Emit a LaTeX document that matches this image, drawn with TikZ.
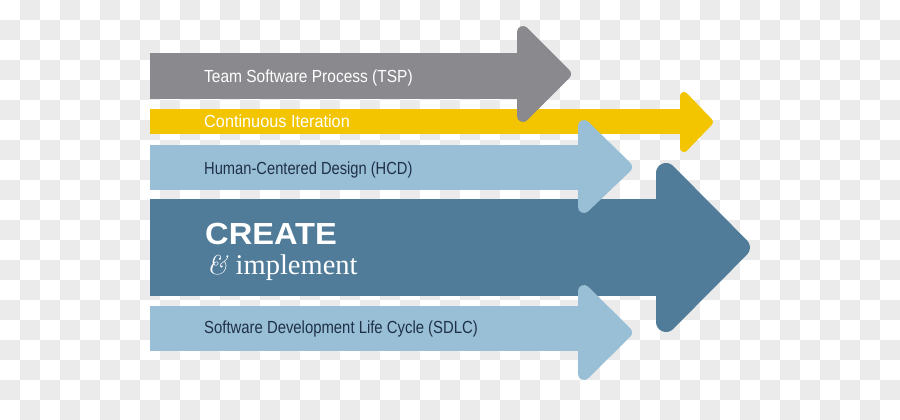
\documentclass[tikz,border=0pt]{standalone}
\usepackage{fontspec}
\usepackage{graphicx}
\newfontfamily\lsans{Liberation Sans}
\newfontfamily\lserif{Liberation Serif}
\definecolor{tspgray}{HTML}{8A898E}
\definecolor{ciyellow}{HTML}{F2C500}
\definecolor{lblue}{HTML}{98BFD6}
\definecolor{dblue}{HTML}{507C9A}
\definecolor{navy}{HTML}{1F3148}
\definecolor{checker}{HTML}{EBEBEB}
\tikzset{
  lbl/.style={anchor=base west, inner sep=0pt, font=\lsans\fontsize{17.5}{20}\selectfont},
  big/.style={anchor=base west, inner sep=0pt, text=white},
  head/.style={fill=#1, draw=#1, line join=round},
}
\begin{document}
\begin{tikzpicture}[x=1pt,y=-1pt]
\useasboundingbox (0,0) rectangle (900,420);
% transparency checkerboard
\fill[white] (0,0) rectangle (900,420);
\foreach \i in {0,...,44}{
  \foreach \j in {0,...,20}{
    \pgfmathtruncatemacro\k{\i+\j}
    \ifodd\k \fill[checker] (\i*20,\j*20) rectangle ++(20,20); \fi
  }
}
% yellow arrow (Continuous Iteration): head visible x 680..713, y 92..152, R=4
\fill[ciyellow] (150,109) rectangle (686,134);
\filldraw[head=ciyellow, line width=8pt] (684,96) -- (709,122) -- (684,148) -- cycle;
% gray arrow (TSP): head visible x 517..571, y 26..122, R=6
\fill[tspgray] (150,53.5) rectangle (525,99);
\filldraw[head=tspgray, line width=12pt] (523,32) -- (565,74) -- (523,116) -- cycle;
% dark blue arrow (CREATE): head visible x 656..750, y 163..332, R=10
\fill[dblue] (150,199) rectangle (668,296);
\filldraw[head=dblue, line width=20pt] (666,173) -- (740,247.5) -- (666,322) -- cycle;
% light blue arrow (HCD): head visible x 578..632, y 120..213, R=6
\fill[lblue] (150,145) rectangle (586,190);
\filldraw[head=lblue, line width=12pt] (584,126) -- (626,167) -- (584,207) -- cycle;
% light blue arrow (SDLC): head visible x 578..632, y 285..380, R=6
\fill[lblue] (150,306) rectangle (586,351);
\filldraw[head=lblue, line width=12pt] (584,291) -- (626,332.5) -- (584,374) -- cycle;
% labels
\node[lbl, text=white] (tsp) at (204,82) {\scalebox{0.886}[1]{Team Software Process (TSP)}};
\node[lbl, text=white] (ci) at (204,127) {\scalebox{0.93}[1]{Continuous Iteration}};
\node[lbl, text=navy] (hcd) at (204,174) {\scalebox{0.84}[1]{Human-Centered Design (HCD)}};
\node[big] (create) at (205,244) {\lsans\bfseries\fontsize{30.5}{34}\selectfont\scalebox{1.07}[1]{CREATE}};
\node[big] (impl) at (207,274) {{\rmfamily\fontsize{27}{30}\selectfont\textit{\&}}\lserif\fontsize{28.5}{30}\selectfont{} implement};
\node[lbl, text=navy] (sdlc) at (204,333) {\scalebox{0.85}[1]{Software Development Life Cycle (SDLC)}};
\end{tikzpicture}
\end{document}
